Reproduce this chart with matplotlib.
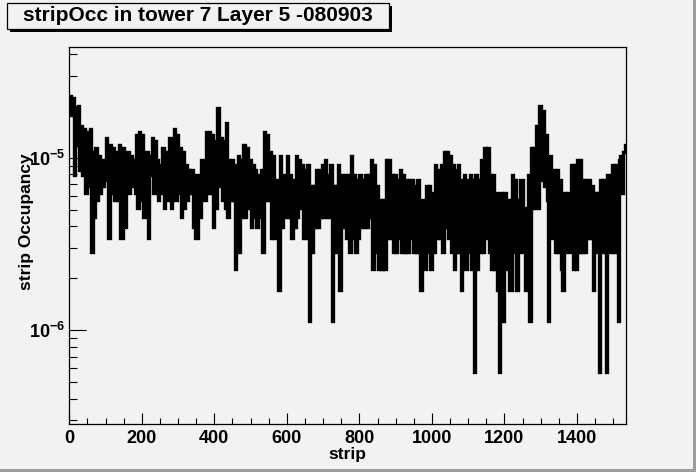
import numpy as np
import matplotlib
matplotlib.use('Agg')
import matplotlib.pyplot as plt
from matplotlib.patches import Rectangle
from matplotlib.ticker import FixedLocator, MultipleLocator, NullFormatter, FixedFormatter, LogLocator

plt.rcParams['font.family'] = ['Liberation Sans', 'DejaVu Sans']
plt.rcParams['font.weight'] = 'bold'
plt.rcParams['mathtext.fontset'] = 'custom'
plt.rcParams['mathtext.rm'] = 'Liberation Sans:bold'
plt.rcParams['mathtext.bf'] = 'Liberation Sans:bold'
plt.rcParams['mathtext.default'] = 'bf'

# hit counts per 4-strip bin (occupancy = counts * occ_per_count)
counts_0_383 = [
    40, 31, 39, 14,  34, 21, 35, 15,  27, 14, 26, 11,  25, 12, 26, 5,
    19, 8, 20, 10,   18, 11, 17, 12,  16, 23, 13, 6,   21, 11, 20, 10,
    19, 10, 21, 6,   6, 20, 7, 19,    19, 11, 18, 12,  17, 11, 24, 9,
    25, 10, 24, 8,   8, 19, 6, 18,    14, 23, 11, 22,  17, 10, 16, 11,
    20, 9, 19, 10,   12, 23, 9, 22,   26, 10, 24, 11,  20, 8, 19, 9,
    16, 10, 15, 11,  15, 7, 14, 6,    6, 14, 8, 17,    17, 10, 25, 11,
]
counts_384_767 = [
    25, 11, 24, 7,   22, 9, 34, 12,   23, 10, 22, 9,   28, 8, 17, 10,
    17, 10, 4, 16,   18, 5, 17, 8,    21, 8, 20, 9,    17, 7, 16, 8,
    15, 7, 14, 8,    15, 5, 25, 10,   24, 10, 19, 6,   18, 6, 13, 7,
    3, 18, 7, 14,    14, 8, 18, 8,    14, 6, 13, 7,    18, 8, 17, 9,
    16, 6, 15, 6,    16, 2, 12, 5,    12, 7, 15, 7,    15, 8, 16, 8,
    17, 8, 14, 8,    16, 2, 12, 5,    12, 16, 3, 14,   14, 7, 14, 6,
]
counts_768_1151 = [
    14, 5, 18, 6,    14, 5, 13, 6,    14, 7, 13, 7,    14, 7, 14, 8,
    17, 4, 16, 5,    12, 4, 10, 4,    10, 4, 17, 6,    17, 6, 14, 5,
    14, 5, 13, 6,    15, 5, 14, 5,    13, 5, 13, 6,    13, 5, 12, 5,
    13, 5, 3, 10,    10, 4, 12, 5,    12, 4, 11, 5,    16, 6, 15, 6,
    16, 5, 19, 7,    19, 6, 18, 5,    16, 4, 15, 5,    16, 5, 3, 13,
    14, 4, 13, 5,    14, 4, 13, 1,    14, 4, 13, 5,    17, 5, 20, 6,
]
counts_1152_1535 = [
    20, 5, 14, 4,    14, 4, 11, 3,    1, 11, 10, 2,    11, 4, 10, 3,
    3, 14, 5, 13,    3, 10, 5, 13,    13, 5, 3, 9,     14, 2, 20, 9,
    20, 9, 27, 9,    35, 13, 33, 12,  24, 10, 2, 18,   13, 6, 15, 5,
    15, 5, 13, 4,    3, 11, 5, 11,    11, 5, 16, 4,    16, 4, 17, 5,
    17, 5, 13, 5,    13, 6, 13, 6,    12, 3, 11, 5,    11, 1, 13, 5,
    13, 5, 1, 14,    14, 5, 16, 5,    16, 6, 2, 17,    18, 11, 19, 21,
]
occ_per_count = 5.68e-7
n_strips = 1536

x_tick_values = [0, 200, 400, 600, 800, 1000, 1200, 1400]
x_tick_labels = ['0', '200', '400', '600', '800', '1000', '1200', '1400']
y_tick_values = [1e-6, 1e-5]
y_tick_labels = [r'$10^{-6}$', r'$10^{-5}$']
title_text = 'stripOcc in tower 7 Layer 5 -080903'
x_title = 'strip'
y_title = 'strip Occupancy'

counts = np.array(counts_0_383 + counts_384_767 + counts_768_1151 + counts_1152_1535)
occ = counts * occ_per_count
edges = np.linspace(0, n_strips, len(counts) + 1)

W, H = 696, 472
bg = '#f2f2f2'
fig = plt.figure(figsize=(W / 100, H / 100), dpi=100, facecolor=bg)

L, R, T, B = 69.3, 626.3, 46.7, 424.0
ax = fig.add_axes([L / W, 1 - B / H, (R - L) / W, (B - T) / H])
ax.set_facecolor(bg)
ax.stairs(occ, edges, baseline=None, color='black', lw=2.4)
ax.set_yscale('log')
ax.set_xlim(0, n_strips)
ax.set_ylim(2.85e-7, 4.41e-5)

ax.xaxis.set_major_locator(FixedLocator(x_tick_values))
ax.xaxis.set_major_formatter(FixedFormatter(x_tick_labels))
ax.xaxis.set_minor_locator(MultipleLocator(50))
ax.yaxis.set_major_locator(FixedLocator(y_tick_values))
ax.yaxis.set_major_formatter(FixedFormatter(y_tick_labels))
ax.yaxis.set_minor_locator(LogLocator(base=10, subs=np.arange(2, 10), numticks=20))
ax.yaxis.set_minor_formatter(NullFormatter())

ax.tick_params(which='both', direction='in', top=False, right=False, color='black', width=0.8)
ax.tick_params(axis='x', which='major', length=8, pad=4, labelsize=13)
ax.tick_params(axis='x', which='minor', length=4)
ax.tick_params(axis='y', which='major', length=12.5, pad=3, labelsize=13)
ax.tick_params(axis='y', which='minor', length=6)
for lab in ax.get_xticklabels() + ax.get_yticklabels():
    lab.set_fontweight('bold')
for s in ax.spines.values():
    s.set_linewidth(0.9)
    s.set_color('black')

fig.text((L + R) / 2 / W, 1 - 455 / H, x_title, ha='center', va='center',
         fontsize=12.5, fontweight='bold')
fig.text(26 / W, 1 - 222 / H, y_title, ha='center', va='center', rotation=90,
         fontsize=12.5, fontweight='bold')

# title box with shadow
bx0, by0, bx1, by1 = 7, 3, 389, 29
fig.patches.append(Rectangle(((bx0 + 3) / W, 1 - (by1 + 3) / H), (bx1 - bx0) / W, (by1 - by0) / H,
                             transform=fig.transFigure, facecolor='black', edgecolor='none', zorder=1))
fig.patches.append(Rectangle((bx0 / W, 1 - by1 / H), (bx1 - bx0) / W, (by1 - by0) / H,
                             transform=fig.transFigure, facecolor=bg, edgecolor='black', lw=0.9, zorder=2))
fig.text((bx0 + bx1) / 2 / W, 1 - 15.5 / H, title_text, ha='center', va='center',
         fontsize=15, fontweight='bold', zorder=3)

# canvas bevel
fig.patches.append(Rectangle((693 / W, 0), 3 / W, 1, transform=fig.transFigure,
                             facecolor='#9c9c9c', edgecolor='none'))
fig.patches.append(Rectangle((0, 0), 1, 3 / H, transform=fig.transFigure,
                             facecolor='#9c9c9c', edgecolor='none'))

fig.savefig('out.png', dpi=100, facecolor=bg)
